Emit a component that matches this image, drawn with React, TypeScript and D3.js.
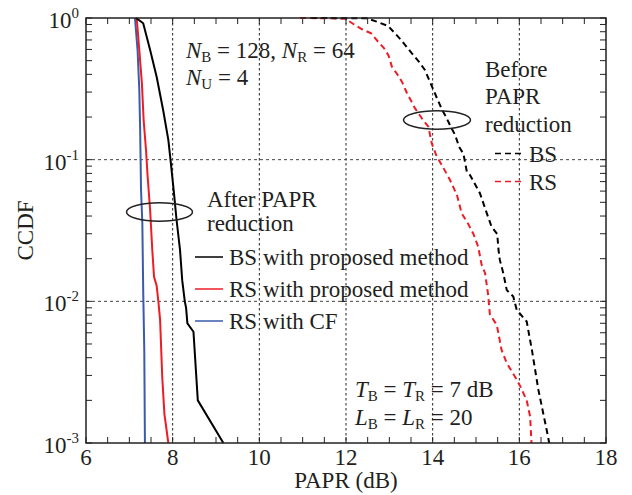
import React from "react";
import * as d3 from "d3";

// ---- data (PAPR in dB, CCDF) ----
const bsPropPapr = [7.15, 7.22, 7.32, 7.48, 7.63, 7.78, 7.9, 7.95, 8.03, 8.09, 8.17, 8.22, 8.28, 8.31, 8.34, 8.48, 8.58, 9.17];
const bsPropCcdf = [1, 0.968, 0.918, 0.594, 0.385, 0.224, 0.138, 0.1, 0.058, 0.0375, 0.023, 0.0141, 0.01, 0.009, 0.007, 0.0061, 0.002, 0.001];

const rsPropPapr = [7.17, 7.23, 7.29, 7.33, 7.385, 7.42, 7.48, 7.53, 7.57, 7.63, 7.67, 7.71, 7.76, 7.81, 7.9];
const rsPropCcdf = [1, 0.594, 0.346, 0.19, 0.117, 0.078, 0.044, 0.023, 0.0149, 0.0129, 0.01, 0.0074, 0.0029, 0.0016, 0.001];

const rsCfPapr = [7.13, 7.19, 7.23, 7.25, 7.27, 7.3, 7.32, 7.345, 7.36];
const rsCfCcdf = [1, 0.594, 0.31, 0.162, 0.061, 0.0357, 0.012, 0.0045, 0.001];

const bsBeforePapr = [11.2, 12.48, 12.71, 12.97, 13.13, 13.27, 13.52, 13.69, 13.82, 13.94, 14.02, 14.1, 14.22, 14.31, 14.42, 14.52, 14.61, 14.71, 14.79, 14.86, 15.09, 15.25, 15.36, 15.49, 15.52, 15.55, 15.63, 15.71, 15.86, 15.94, 16.17, 16.29, 16.44, 16.63, 16.69];
const bsBeforeCcdf = [1, 0.995, 0.942, 0.879, 0.78, 0.7, 0.563, 0.489, 0.43, 0.353, 0.31, 0.271, 0.224, 0.2, 0.17, 0.149, 0.123, 0.11, 0.0818, 0.078, 0.058, 0.0418, 0.0336, 0.0299, 0.023, 0.0196, 0.0158, 0.012, 0.0108, 0.0087, 0.0072, 0.00454, 0.00237, 0.00124, 0.001];

const rsBeforePapr = [10.94, 11.98, 12.17, 12.36, 12.58, 12.74, 12.88, 12.98, 13.06, 13.18, 13.29, 13.4, 13.59, 13.78, 13.9, 13.98, 14.09, 14.21, 14.4, 14.56, 14.67, 14.82, 14.94, 15.05, 15.13, 15.21, 15.28, 15.32, 15.48, 15.59, 15.71, 15.9, 16.02, 16.17, 16.25, 16.28];
const rsBeforeCcdf = [1, 0.992, 0.907, 0.836, 0.78, 0.68, 0.611, 0.544, 0.453, 0.402, 0.355, 0.298, 0.231, 0.19, 0.171, 0.13, 0.106, 0.0917, 0.0719, 0.0563, 0.0418, 0.0352, 0.0299, 0.0243, 0.0181, 0.0158, 0.0111, 0.0081, 0.0068, 0.00454, 0.00366, 0.00294, 0.00252, 0.002, 0.00153, 0.001];

const xTicks = [6, 8, 10, 12, 14, 16, 18];
const xGrid = [8, 10, 12, 14, 16];
const yExps = [0, -1, -2, -3];
const yGrid = [0.1, 0.01];
const legendLabels = ["BS with proposed method", "RS with proposed method", "RS with CF"];
const beforeLabels = ["BS", "RS"];

const W = 632, H = 495;
const L = 86, R = 606, T = 18, B = 443;
const FONT = "'Liberation Serif', 'Times New Roman', serif";
const FS = 23;
const TXT = "#231f20";
const RED = "#ee1c25";
const BLUE = "#3a5bab";

export default function App() {
  const x = d3.scaleLinear().domain([6, 18]).range([L, R]);
  const y = d3.scaleLog().domain([0.001, 1]).range([B, T]);
  const line = d3.line<[number, number]>().x(d => x(d[0])).y(d => y(d[1]));
  const pts = (a: number[], b: number[]) => a.map((v, i) => [v, b[i]] as [number, number]);

  const minorX = d3.range(6, 18.01, 0.5);
  const minorY: number[] = [];
  [0.001, 0.01, 0.1].forEach(dec => { for (let k = 1; k <= 9; k++) minorY.push(dec * k); });
  minorY.push(1);

  const legendY = [257, 289, 321];
  const legendColors = ["#000", RED, BLUE];
  const beforeY = [153.5, 181.5];
  const beforeColors = ["#000", RED];

  return (
    <svg width={W} height={H} style={{ position: "absolute", left: 0, top: 0, background: "#fff" }} fontFamily={FONT}>
      <rect x={0} y={0} width={W} height={H} fill="#fff" />
      {/* grid */}
      {xGrid.map(v => (
        <line key={"gx" + v} x1={x(v)} x2={x(v)} y1={T} y2={B} stroke="#222" strokeWidth={1} strokeDasharray="2.5,2.5" />
      ))}
      {yGrid.map(v => (
        <line key={"gy" + v} x1={L} x2={R} y1={y(v)} y2={y(v)} stroke="#444" strokeWidth={1} strokeDasharray="3,3" />
      ))}
      {/* ticks */}
      {minorX.map(v => (
        <g key={"tx" + v}>
          <line x1={x(v)} x2={x(v)} y1={B} y2={B - 6} stroke="#222" strokeWidth={1} />
          <line x1={x(v)} x2={x(v)} y1={T} y2={T + 6} stroke="#222" strokeWidth={1} />
        </g>
      ))}
      {minorY.map((v, i) => (
        <g key={"ty" + i}>
          <line x1={L} x2={L + 6} y1={y(v)} y2={y(v)} stroke="#222" strokeWidth={1} />
          <line x1={R} x2={R - 6} y1={y(v)} y2={y(v)} stroke="#222" strokeWidth={1} />
        </g>
      ))}
      {/* curves */}
      <path d={line(pts(rsBeforePapr, rsBeforeCcdf)) || ""} fill="none" stroke={RED} strokeWidth={2} strokeDasharray="6,4" />
      <path d={line(pts(bsBeforePapr, bsBeforeCcdf)) || ""} fill="none" stroke="#000" strokeWidth={2} strokeDasharray="6,4" />
      <path d={line(pts(rsCfPapr, rsCfCcdf)) || ""} fill="none" stroke={BLUE} strokeWidth={2} />
      <path d={line(pts(rsPropPapr, rsPropCcdf)) || ""} fill="none" stroke={RED} strokeWidth={2} />
      <path d={line(pts(bsPropPapr, bsPropCcdf)) || ""} fill="none" stroke="#000" strokeWidth={2} />
      {/* frame */}
      <rect x={L} y={T} width={R - L} height={B - T} fill="none" stroke="#222" strokeWidth={1.5} />
      {/* x tick labels */}
      {xTicks.map(v => (
        <text key={"xl" + v} x={x(v)} y={465} textAnchor="middle" fontSize={FS} fill={TXT}>{v}</text>
      ))}
      <text x={(L + R) / 2} y={488} textAnchor="middle" fontSize={FS} fill={TXT}>PAPR (dB)</text>
      {/* y tick labels */}
      {yExps.map(e => (
        <text key={"yl" + e} x={79} y={y(Math.pow(10, e)) + 10} textAnchor="end" fontSize={FS} fill={TXT}>
          10<tspan fontSize={15} dy={-10}>{e === 0 ? "0" : "-" + -e}</tspan>
        </text>
      ))}
      <text transform={`translate(33,${(T + B) / 2}) rotate(-90)`} textAnchor="middle" fontSize={FS} fill={TXT}>CCDF</text>
      {/* ellipses */}
      <ellipse cx={159.5} cy={212} rx={33} ry={9.2} fill="none" stroke="#222" strokeWidth={1.5} />
      <ellipse cx={437} cy={120} rx={33.5} ry={9.2} fill="none" stroke="#222" strokeWidth={1.5} />
      {/* annotations */}
      <text x={186} y={58} fontSize={FS} fill={TXT}>
        <tspan fontStyle="italic">N</tspan><tspan fontSize={15} dy={4}>B</tspan><tspan dy={-4}> = 128, </tspan>
        <tspan fontStyle="italic">N</tspan><tspan fontSize={15} dy={4}>R</tspan><tspan dy={-4}> = 64</tspan>
      </text>
      <text x={186} y={85} fontSize={FS} fill={TXT}>
        <tspan fontStyle="italic">N</tspan><tspan fontSize={15} dy={4}>U</tspan><tspan dy={-4}> = 4</tspan>
      </text>
      <text x={355} y={397} fontSize={FS} fill={TXT}>
        <tspan fontStyle="italic">T</tspan><tspan fontSize={15} dy={4}>B</tspan><tspan dy={-4}> = </tspan>
        <tspan fontStyle="italic">T</tspan><tspan fontSize={15} dy={4}>R</tspan><tspan dy={-4}> = 7 dB</tspan>
      </text>
      <text x={355} y={425} fontSize={FS} fill={TXT}>
        <tspan fontStyle="italic">L</tspan><tspan fontSize={15} dy={4}>B</tspan><tspan dy={-4}> = </tspan>
        <tspan fontStyle="italic">L</tspan><tspan fontSize={15} dy={4}>R</tspan><tspan dy={-4}> = 20</tspan>
      </text>
      <text x={207} y={207} fontSize={FS} fill={TXT}>After PAPR</text>
      <text x={207} y={231} fontSize={FS} fill={TXT}>reduction</text>
      <text x={485} y={77} fontSize={FS} fill={TXT}>Before</text>
      <text x={485} y={104} fontSize={FS} fill={TXT}>PAPR</text>
      <text x={485} y={132} fontSize={FS} fill={TXT}>reduction</text>
      {/* legends */}
      {legendLabels.map((lab, i) => (
        <g key={lab}>
          <line x1={195} x2={223} y1={legendY[i]} y2={legendY[i]} stroke={legendColors[i]} strokeWidth={1.5} />
          <text x={229} y={legendY[i] + 8} fontSize={FS} fill={TXT}>{lab}</text>
        </g>
      ))}
      {beforeLabels.map((lab, i) => (
        <g key={lab}>
          <line x1={495} x2={522} y1={beforeY[i]} y2={beforeY[i]} stroke={beforeColors[i]} strokeWidth={1.5} strokeDasharray="6,4" />
          <text x={529} y={beforeY[i] + 8} fontSize={FS} fill={TXT}>{lab}</text>
        </g>
      ))}
    </svg>
  );
}
